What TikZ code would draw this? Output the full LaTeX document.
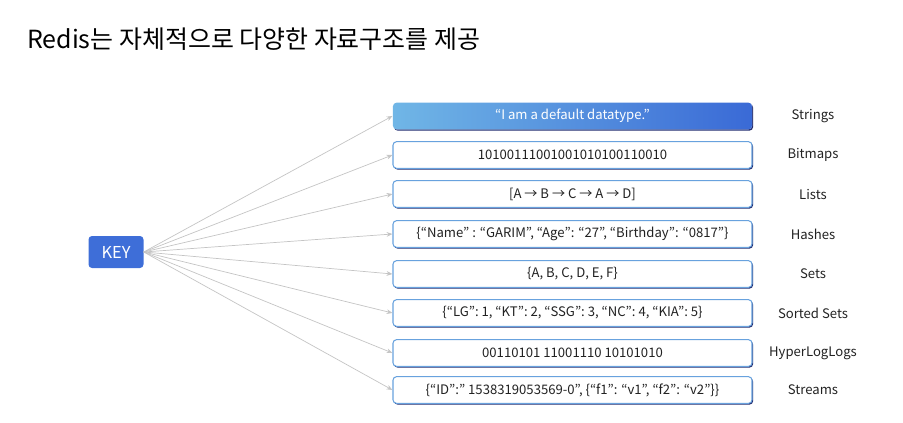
\documentclass[tikz,border=0pt]{standalone}
\usepackage{fontspec}
\setmainfont{Noto Sans CJK KR}
\usetikzlibrary{arrows.meta,shadows}
\definecolor{keyblue}{RGB}{62,110,216}
\definecolor{boxedge}{RGB}{104,162,222}
\definecolor{boxshade}{RGB}{34,44,112}
\definecolor{strleft}{RGB}{112,182,230}
\definecolor{strright}{RGB}{58,106,214}
\definecolor{arrowgray}{RGB}{196,196,196}
\definecolor{labeltext}{RGB}{34,34,34}

\begin{document}
\begin{tikzpicture}[x=0.03cm, y=-0.03cm, font=\fontsize{11.2}{13}\selectfont,
  valbox/.style={draw=boxedge, line width=0.9pt, fill=white, rounded corners=3pt,
    minimum width=10.77cm, minimum height=0.8cm, inner sep=0pt, text=labeltext,
    drop shadow={shadow xshift=0.9pt, shadow yshift=-1.1pt, fill=boxshade, opacity=1}},
  typelabel/.style={text=labeltext, inner sep=1pt},
  link/.style={draw=arrowgray, line width=0.6pt, -{Stealth[length=5pt, width=4pt]}}]
\useasboundingbox (0,0) rectangle (903,422);
\node[anchor=base west, inner sep=0pt, font=\fontsize{21.3}{25}\selectfont] (title) at (27,49) {Redis는 자체적으로 다양한 자료구조를 제공};
\node[fill=keyblue, rounded corners=3pt, text=white, minimum width=1.65cm, minimum height=0.96cm,
  inner sep=0pt, font=\fontsize{14}{16}\selectfont] (key) at (116,252) {KEY};
% value boxes
\node[valbox, draw=none, left color=strleft, right color=strright, text=white] (b1) at (572.5,116) {“I am a default datatype.”};
\node[valbox] (b2) at (572.5,155) {10100111001001010100110010};
\node[valbox] (b3) at (572.5,194) {[A → B → C → A → D]};
\node[valbox] (b4) at (572.5,234) {\{“Name” : “GARIM”, “Age”: “27”, “Birthday”: “0817”\}};
\node[valbox] (b5) at (572.5,274) {\{A, B, C, D, E, F\}};
\node[valbox] (b6) at (572.5,313) {\{“LG”: 1, “KT”: 2, “SSG”: 3, “NC”: 4, “KIA”: 5\}};
\node[valbox] (b7) at (572.5,353) {00110101 11001110 10101010};
\node[valbox] (b8) at (572.5,390) {\{“ID”:” 1538319053569-0”, \{“f1”: “v1”, “f2”: “v2”\}\}};
% type names
\node[typelabel] (l1) at (813,116) {Strings};
\node[typelabel] (l2) at (813,155) {Bitmaps};
\node[typelabel] (l3) at (813,194) {Lists};
\node[typelabel] (l4) at (813,234) {Hashes};
\node[typelabel] (l5) at (813,274) {Sets};
\node[typelabel] (l6) at (813,313) {Sorted Sets};
\node[typelabel] (l7) at (813,353) {HyperLogLogs};
\node[typelabel] (l8) at (813,390) {Streams};
\foreach \i in {1,...,8}
  \draw[link] (key.east) -- (b\i.west);
\end{tikzpicture}
\end{document}
